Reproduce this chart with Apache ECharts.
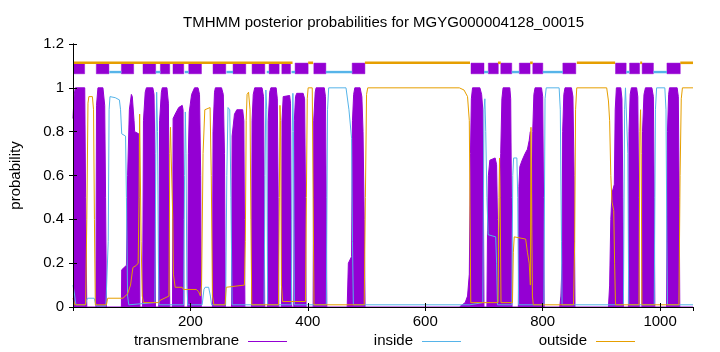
<!DOCTYPE html>
<html>
<head>
<meta charset="utf-8">
<script src="https://cdn.jsdelivr.net/npm/echarts@6/dist/echarts.min.js"></script>
<style>
  html, body { margin: 0; padding: 0; background: #fff; }
  #chart { width: 720px; height: 352px; }
</style>
</head>
<body>
<div id="chart"></div>
<script>
// posterior probabilities, as [residue, probability]
const tmProb = [
  [0, 0.86], [2, 0.97], [4, 1], [20, 1], [21.5, 0.5], [23.5, 0],
  [39, 0], [40, 0.92], [42.5, 1], [51, 1], [54, 0.92], [55.5, 0.5], [57, 0],
  [82.4, 0], [83, 0.17], [91, 0.19], [93, 0.6], [96, 0.9], [99.4, 0.97], [101, 0.96], [104, 0.85], [105, 0.8], [112, 0.79], [113, 0.5], [114, 0],
  [118.5, 0], [120, 0.85], [123, 0.98], [125, 1], [136, 1], [138, 0.97], [139.5, 0.7], [140.5, 0],
  [146, 0], [147.5, 0.85], [150.5, 0.98], [152, 1], [160, 1], [162.5, 0.93], [163.8, 0.4], [164.8, 0],
  [169.5, 0], [170.5, 0.86], [174, 0.88], [180, 0.91], [186, 0.92], [187.5, 0.9], [188.3, 0.4], [189, 0],
  [195.5, 0], [196.5, 0.7], [198, 0.89], [202, 0.97], [207, 1], [213, 1], [215.5, 0.97], [217.5, 0.6], [218.5, 0],
  [237.5, 0], [238.5, 0.8], [241, 0.98], [242.5, 1], [253, 1], [256, 0.97], [258, 0.7], [259.5, 0],
  [270, 0], [271, 0.78], [275, 0.88], [279, 0.9], [289, 0.9], [291, 0.85], [292, 0.4], [292.8, 0],
  [304, 0], [305, 0.85], [307, 0.97], [309.5, 1], [322, 1], [324.5, 0.96], [325.5, 0.6], [326.5, 0],
  [331.5, 0], [332.5, 0.85], [335, 0.98], [337, 1], [346, 1], [348, 0.95], [349.5, 0.5], [350.5, 0],
  [355, 0], [356, 0.85], [358, 0.96], [359, 0.965], [369, 0.965], [370.5, 0.93], [371.5, 0.4], [372.5, 0],
  [376, 0], [377, 0.85], [379, 0.96], [381, 0.975], [392, 0.975], [394.5, 0.95], [396, 0.5], [397, 0],
  [409, 0], [410, 0.85], [412.5, 0.98], [414, 1], [428, 1], [430, 0.96], [431.3, 0.5], [432.3, 0],
  [467, 0], [469, 0.2], [474.5, 0.23], [476, 0.85], [478, 0.97], [480, 1], [489, 1], [492, 0.96], [494, 0.8], [496, 0.4], [497.5, 0],
  [658, 0], [668, 0.02], [672, 0.05], [675, 0.15], [677, 0.7], [678.5, 0.95], [680.5, 1], [693, 1], [696, 0.97], [698, 0.9], [699, 0.5], [700, 0],
  [705, 0], [706, 0.35], [707.5, 0.6], [710, 0.67], [719, 0.68], [721.5, 0.65], [723, 0.4], [724.5, 0],
  [727.5, 0], [728.5, 0.7], [730.5, 0.95], [732.5, 1], [744, 1], [745.5, 0.95], [746.8, 0.5], [747.8, 0],
  [758.5, 0], [759.5, 0.55], [761, 0.64], [765, 0.67], [770, 0.7], [774, 0.72], [777, 0.76], [779, 0.8], [780, 0.4], [780.8, 0],
  [782, 0], [783, 0.8], [785, 0.97], [787, 1], [798, 1], [800, 0.96], [801.5, 0.5], [802.5, 0],
  [829, 0], [831, 0.05], [833, 0.2], [834, 0.8], [836, 0.97], [838, 1], [849, 1], [851.5, 0.96], [853.5, 0.6], [855, 0],
  [912, 0], [914, 0.1], [916, 0.4], [918, 0.52], [922, 0.56], [923.5, 0.9], [925.5, 1], [933, 1], [935, 0.95], [936.5, 0.5], [937.5, 0],
  [946, 0], [947, 0.8], [949, 0.97], [951, 1], [960, 1], [962, 0.96], [963.5, 0.5], [964.5, 0],
  [969, 0], [970, 0.8], [972.5, 0.97], [975, 1], [986, 1], [988.5, 0.96], [990, 0.5], [991, 0],
  [1011, 0], [1012.5, 0.8], [1014.5, 0.97], [1016, 1], [1029, 1], [1031, 0.96], [1032.5, 0.5], [1033.5, 0],
  [1056, 0]
];

const insideProb = [
  [0, 0.1], [3, 0.05], [5, 0.01], [21, 0.01], [23, 0.03], [25, 0.04], [36, 0.04], [38, 0.02], [40, 0.005], [56, 0.005],
  [58, 0.01], [60, 0.3], [61.5, 0.9], [63, 0.96], [72, 0.955], [79, 0.945], [81, 0.9], [83, 0.79], [89.5, 0.78], [91, 0.5], [93, 0.05], [95, 0.01],
  [139.5, 0.02], [141, 0.7], [142.5, 0.98], [144, 0.8], [145.5, 0.2], [146.5, 0.01],
  [188.5, 0.01], [190, 0.6], [191.3, 0.89], [192.5, 0.7], [194, 0.1], [195.5, 0.01],
  [220, 0.01], [223, 0.08], [225, 0.09], [231, 0.09], [234, 0.05], [236, 0.01],
  [260, 0.01], [262, 0.6], [264, 0.91], [267, 0.9], [269, 0.5], [271, 0.01],
  [325.5, 0.01], [327, 0.6], [328.5, 0.99], [330, 0.9], [331.5, 0.01],
  [372, 0.01], [373.5, 0.8], [374.5, 0.975], [375.5, 0.8], [377, 0.01],
  [431.5, 0.01], [433.5, 0.9], [435.5, 1], [465, 1], [470, 0.9], [474.5, 0.77], [476, 0.3], [477.5, 0.01],
  [676, 0.01],
  [698, 0.02], [700, 0.9], [701.5, 0.95], [703, 0.8], [705, 0.5], [707, 0.33], [720, 0.32], [721.5, 0.2], [723, 0.01],
  [747.5, 0.01], [749, 0.6], [750.5, 0.68], [756, 0.68], [757.5, 0.5], [759, 0.01],
  [802, 0.01], [804, 0.95], [806, 1], [828, 1], [830, 0.9], [832, 0.3], [833, 0.01],
  [937.5, 0.01], [939.5, 0.9], [941, 1], [943, 1], [945, 0.7], [946.5, 0.01],
  [990, 0.01], [992, 0.9], [994, 1], [1008, 1], [1010, 0.9], [1011.5, 0.3], [1012.5, 0.01], [1056, 0.01]
];

const outsideProb = [
  [0, 0.04], [3, 0.01], [21.5, 0.01], [23.5, 0.4], [25.5, 0.93], [27, 0.96], [33, 0.96], [35, 0.9], [36.5, 0.4], [38, 0.01],
  [57, 0.01], [59, 0.04], [85, 0.04], [93, 0.06], [98, 0.1], [102, 0.18], [108, 0.19], [111, 0.2], [112.5, 0.5], [113.5, 0.88], [114.5, 0.88], [116, 0.3], [118, 0.05], [120, 0.02],
  [146, 0.02], [148, 0.03], [163.5, 0.05], [164.8, 0.7], [166, 0.82], [169, 0.82], [170, 0.4], [171, 0.15], [173, 0.15], [174, 0.09],
  [186, 0.09], [188, 0.08], [210, 0.08], [214, 0.07], [217, 0.05],
  [219, 0.1], [221.5, 0.7], [224.5, 0.9], [233.5, 0.91], [235.5, 0.6], [237.5, 0.05], [240, 0.01],
  [259, 0.01], [261, 0.09], [292, 0.1],
  [293.5, 0.3], [295, 0.85], [296.5, 0.97], [299, 0.98], [301.5, 0.9], [303, 0.4], [304.5, 0.01],
  [350, 0.01], [351.5, 0.5], [352.5, 0.92], [353.5, 0.85], [355, 0.1], [357, 0.025], [396, 0.025],
  [397.5, 0.5], [399, 0.95], [400.5, 1], [407.5, 1], [409, 0.5], [410.5, 0.01],
  [496, 0.01], [498, 0.5], [500, 0.97], [502, 1], [658, 1], [666, 0.99], [672, 0.96], [675, 0.85], [677.5, 0.02],
  [724, 0.02], [725.5, 0.5], [726.5, 0.68], [727.5, 0.5], [729, 0.02],
  [748.5, 0.02], [750, 0.25], [751.5, 0.32], [771, 0.31], [774, 0.25], [777, 0.2], [779, 0.1], [780, 0.82], [781.5, 0.82], [782.5, 0.05], [784, 0.01],
  [852.5, 0.01], [854.5, 0.3], [856, 0.9], [858, 1], [909, 1], [912, 0.94], [914, 0.85], [916, 0.6], [918, 0.48], [921, 0.44], [922.5, 0.2], [924, 0.01],
  [964, 0.01], [965.5, 0.8], [966.7, 0.9], [967.8, 0.7], [969, 0.01],
  [1032, 0.01], [1034, 0.6], [1036, 0.95], [1038, 1], [1056, 1]
];

// predicted topology shown above the curves, as [start, end] residues
const tmSegments = [
  [1, 19.8], [39.7, 61.2], [82.4, 103.3], [119.2, 140.8], [148.8, 164.7],
  [170.3, 188.6], [197.1, 218.8], [238.5, 260.2], [272.6, 294.3], [305, 326.7],
  [334, 351.1], [355.7, 370.5], [378.3, 400.5], [410.2, 430.7], [475.5, 497.2],
  [677.9, 700], [707.4, 724.4], [728.6, 747.3], [760.2, 778.5], [783.1, 800.2],
  [834.3, 856.4], [924, 942.2], [948, 965], [969.4, 988.6], [1011.6, 1034.3]
];
const insideSegments = [
  [62, 82.4], [141, 148.8], [190.3, 197.1], [261.4, 272.6], [330, 334],
  [372.2, 378.3], [430.7, 475.5], [700, 707.4], [747.3, 760.2], [800.2, 834.3],
  [942.2, 948], [988.6, 1011.6]
];
const outsideSegments = [
  [1, 373.9], [400.5, 409], [497.2, 676.2], [723.9, 728.6], [778.5, 783.1],
  [858.1, 923.4], [966, 969.4], [1034.3, 1056]
];

const legendNames = ['transmembrane', 'inside', 'outside'];

const seqLength = 1056;
const colTM = '#9400D3';
const colIn = '#56B4E9';
const colOut = '#E69F00';
const font = 'Liberation Sans, Arial, sans-serif';

const chart = echarts.init(document.getElementById('chart'), null, { renderer: 'canvas' });

// horizontal bar from start to end at a fixed probability level
const segmentLine = (level, color, width) => (params, api) => {
  const a = api.coord([api.value(0), level]);
  const b = api.coord([api.value(1), level]);
  return {
    type: 'line',
    shape: { x1: a[0], y1: a[1], x2: b[0], y2: b[1] },
    style: { stroke: color, lineWidth: width }
  };
};

const segmentBox = (params, api) => {
  const a = api.coord([api.value(0), 1.113]);
  const b = api.coord([api.value(1), 1.064]);
  return {
    type: 'rect',
    shape: { x: a[0], y: a[1], width: b[0] - a[0], height: b[1] - a[1] },
    style: { fill: colTM, stroke: 'rgba(148,0,211,0.45)', lineWidth: 1 }
  };
};

const axisCommon = {
  axisLine: { show: true, lineStyle: { color: '#000', width: 1 } },
  axisTick: { show: true, inside: true, length: 4, lineStyle: { color: '#000' } },
  splitLine: { show: false },
  z: 10
};

// gnuplot style key: name, then a short line sample to its right
const keyEntry = (name, textRight, lineLeft, color) => [
  {
    type: 'text',
    right: 720 - textRight,
    top: 333,
    style: { text: name, font: '15px ' + font, fill: '#000' }
  },
  {
    type: 'line',
    shape: { x1: lineLeft, y1: 341.5, x2: lineLeft + 39, y2: 341.5 },
    style: { stroke: color, lineWidth: 1 }
  }
];

const option = {
  animation: false,
  backgroundColor: '#fff',
  title: {
    text: 'TMHMM posterior probabilities for MGYG000004128_00015',
    left: 183,
    top: 15,
    padding: 0,
    textStyle: { fontFamily: font, fontSize: 15, fontWeight: 'normal', color: '#000' }
  },
  graphic: [].concat(
    keyEntry(legendNames[0], 239, 248, colTM),
    keyEntry(legendNames[1], 413, 422, colIn),
    keyEntry(legendNames[2], 587, 596, colOut)
  ),
  grid: { left: 73, right: 27, top: 44, bottom: 45 },
  xAxis: [
    Object.assign({
      type: 'value', min: 0, max: seqLength, interval: 200, position: 'bottom',
      axisLabel: {
        showMinLabel: false, showMaxLabel: false, margin: 7,
        fontFamily: font, fontSize: 15, color: '#000',
        formatter: (v) => String(v)
      }
    }, axisCommon),
    Object.assign({
      type: 'value', min: 0, max: seqLength, interval: 200, position: 'top',
      axisLabel: { show: false }
    }, axisCommon)
  ],
  yAxis: [
    Object.assign({
      type: 'value', min: 0, max: 1.2, interval: 0.2, position: 'left',
      name: 'probability', nameLocation: 'middle', nameGap: 50,
      nameTextStyle: { fontFamily: font, fontSize: 15, color: '#000' },
      axisLabel: { margin: 9, fontFamily: font, fontSize: 15, color: '#000' }
    }, axisCommon),
    Object.assign({
      type: 'value', min: 0, max: 1.2, interval: 0.2, position: 'right',
      axisLabel: { show: false }
    }, axisCommon)
  ],
  series: [
    {
      name: legendNames[0],
      type: 'line',
      data: tmProb,
      symbol: 'none',
      lineStyle: { color: colTM, width: 1 },
      itemStyle: { color: colTM },
      areaStyle: { color: colTM, opacity: 1 },
      z: 2
    },
    {
      name: legendNames[1],
      type: 'line',
      data: insideProb,
      symbol: 'none',
      lineStyle: { color: colIn, width: 1 },
      itemStyle: { color: colIn },
      z: 3
    },
    {
      name: legendNames[2],
      type: 'line',
      data: outsideProb,
      symbol: 'none',
      lineStyle: { color: colOut, width: 1 },
      itemStyle: { color: colOut },
      z: 4
    },
    {
      type: 'custom',
      renderItem: segmentBox,
      data: tmSegments,
      encode: { x: [0, 1] },
      z: 5
    },
    {
      type: 'custom',
      renderItem: segmentLine(1.072, colIn, 2.4),
      data: insideSegments,
      encode: { x: [0, 1] },
      z: 5
    },
    {
      type: 'custom',
      renderItem: segmentLine(1.1142, colOut, 2.6),
      data: outsideSegments,
      encode: { x: [0, 1] },
      z: 6
    }
  ]
};

chart.setOption(option);
</script>
</body>
</html>
